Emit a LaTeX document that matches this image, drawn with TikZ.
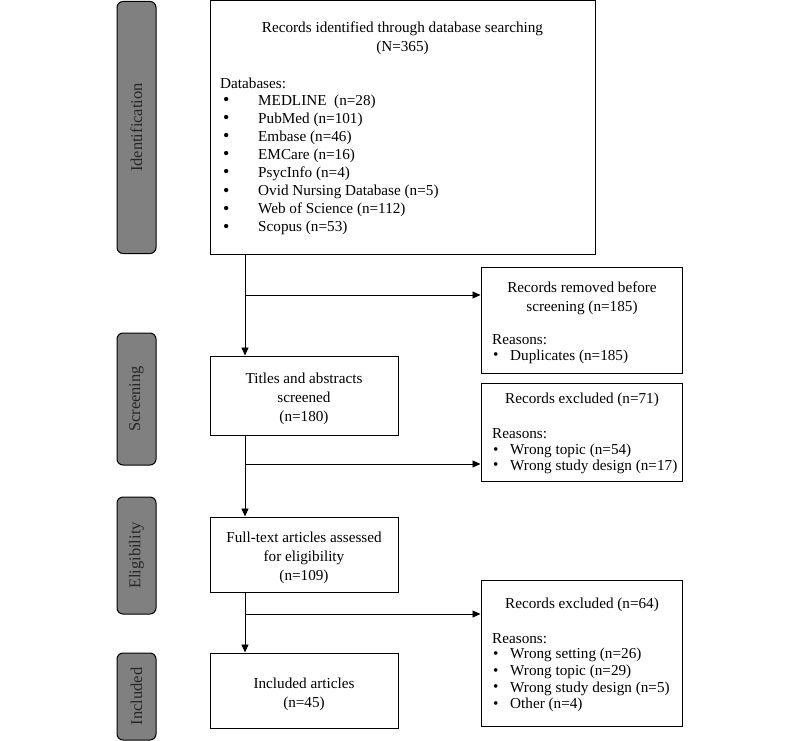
\documentclass[tikz,border=0pt]{standalone}
\usepackage{fontspec}
\setmainfont{Liberation Serif}
\usetikzlibrary{arrows.meta}
\definecolor{stagegray}{RGB}{128,128,128}
\tikzset{
  box/.style={draw, line width=1pt, inner sep=0pt},
  stage/.style={draw, line width=1pt, fill=stagegray, rounded corners=6pt, inner sep=0pt, rotate=90,
    text=black!85, font=\fontsize{16.5}{19}\selectfont},
  txt/.style={inner sep=0pt, align=center},
  item/.style={inner sep=0pt, anchor=west},
  arrow/.style={line width=0.9pt, -{Triangle[length=8pt,width=7pt]}}
}
\begin{document}
\begin{tikzpicture}[x=1pt,y=-1pt,font=\fontsize{15.2}{19}\selectfont]
\useasboundingbox (0,0) rectangle (800,741);

% stage bars on the left
\node[stage, minimum width=252, minimum height=39] (sident) at (136.5,127.5) {Identification};
\node[stage, minimum width=132, minimum height=39] (sscreen) at (136.5,399) {Screening};
\node[stage, minimum width=117, minimum height=39] (selig) at (136.5,555.5) {Eligibility};
\node[stage, minimum width=87, minimum height=39] (sincl) at (136.5,696.5) {Included};

% boxes of the main flow
\node[box, minimum width=385, minimum height=253] (ident) at (402.5,127.5) {};
\node[box, minimum width=188, minimum height=79] (titles) at (304,395.5) {};
\node[box, minimum width=188, minimum height=75] (fulltext) at (304,554.5) {};
\node[box, minimum width=188, minimum height=75] (included) at (304,690.5) {};

% boxes on the right
\node[box, minimum width=201, minimum height=106] (removed) at (581.5,320) {};
\node[box, minimum width=201, minimum height=98] (exclA) at (581.5,432) {};
\node[box, minimum width=201, minimum height=146] (exclB) at (581.5,653) {};

% texts of the main flow
\node[txt] (identt) at (402.5,38.5) {Records identified through database searching\\(N=365)};
\node[item] (dbs) at (220,83) {Databases:};
\foreach \name [count=\i] in {MEDLINE\ \ (n=28), PubMed (n=101), Embase (n=46), EMCare\ (n=16),
  PsycInfo (n=4), Ovid Nursing Database (n=5), Web of Science (n=112), Scopus (n=53)} {
  \node[item, font=\fontsize{18}{19}\selectfont] (bul\i) at (223,{101.5+18.1*(\i-1)}) {\textbullet};
  \node[item] (db\i) at (258,{101.5+18.1*(\i-1)}) {\name};
}
\node[txt] (titlest) at (304,399) {Titles and abstracts\\screened\\(n=180)};
\node[txt] (fulltextt) at (304,558) {Full-text articles assessed\\for eligibility\\(n=109)};
\node[txt] (includedt) at (304,694.5) {Included articles\\(n=45)};

% texts on the right
\node[txt] (removedt) at (582,298.5) {Records removed before\\screening (n=185)};
\node[item] (removedr) at (492,340) {Reasons:};
\node[item] (remb1) at (493,356.5) {\textbullet};
\node[item] (remi1) at (510,356.5) {Duplicates (n=185)};

\node[txt] (exclAt) at (582,400) {Records excluded (n=71)};
\node[item] (exclAr) at (492,434) {Reasons:};
\foreach \name [count=\i] in {Wrong topic (n=54), Wrong study design (n=17)} {
  \node[item] (exAb\i) at (493,{451+15.5*(\i-1)}) {\textbullet};
  \node[item] (exAi\i) at (510,{451+15.5*(\i-1)}) {\name};
}

\node[txt] (exclBt) at (582,605) {Records excluded (n=64)};
\node[item] (exclBr) at (492,638.5) {Reasons:};
\foreach \name [count=\i] in {Wrong setting (n=26), Wrong topic (n=29), Wrong study design (n=5), Other (n=4)} {
  \node[item] (exBb\i) at (493,{655+16.7*(\i-1)}) {\textbullet};
  \node[item] (exBi\i) at (510,{655+16.7*(\i-1)}) {\name};
}

% connectors
\coordinate (trunk) at (245,0);
\coordinate (br1) at (245,295);
\coordinate (br2) at (245,464);
\coordinate (br3) at (245,614);
\draw[arrow] (ident.south -| trunk) -- (titles.north -| trunk);
\draw[arrow] (titles.south -| trunk) -- (fulltext.north -| trunk);
\draw[arrow] (fulltext.south -| trunk) -- (included.north -| trunk);
\draw[arrow] (br1) -- (br1 -| removed.west);
\draw[arrow] (br2) -- (br2 -| exclA.west);
\draw[arrow] (br3) -- (br3 -| exclB.west);
\end{tikzpicture}
\end{document}
